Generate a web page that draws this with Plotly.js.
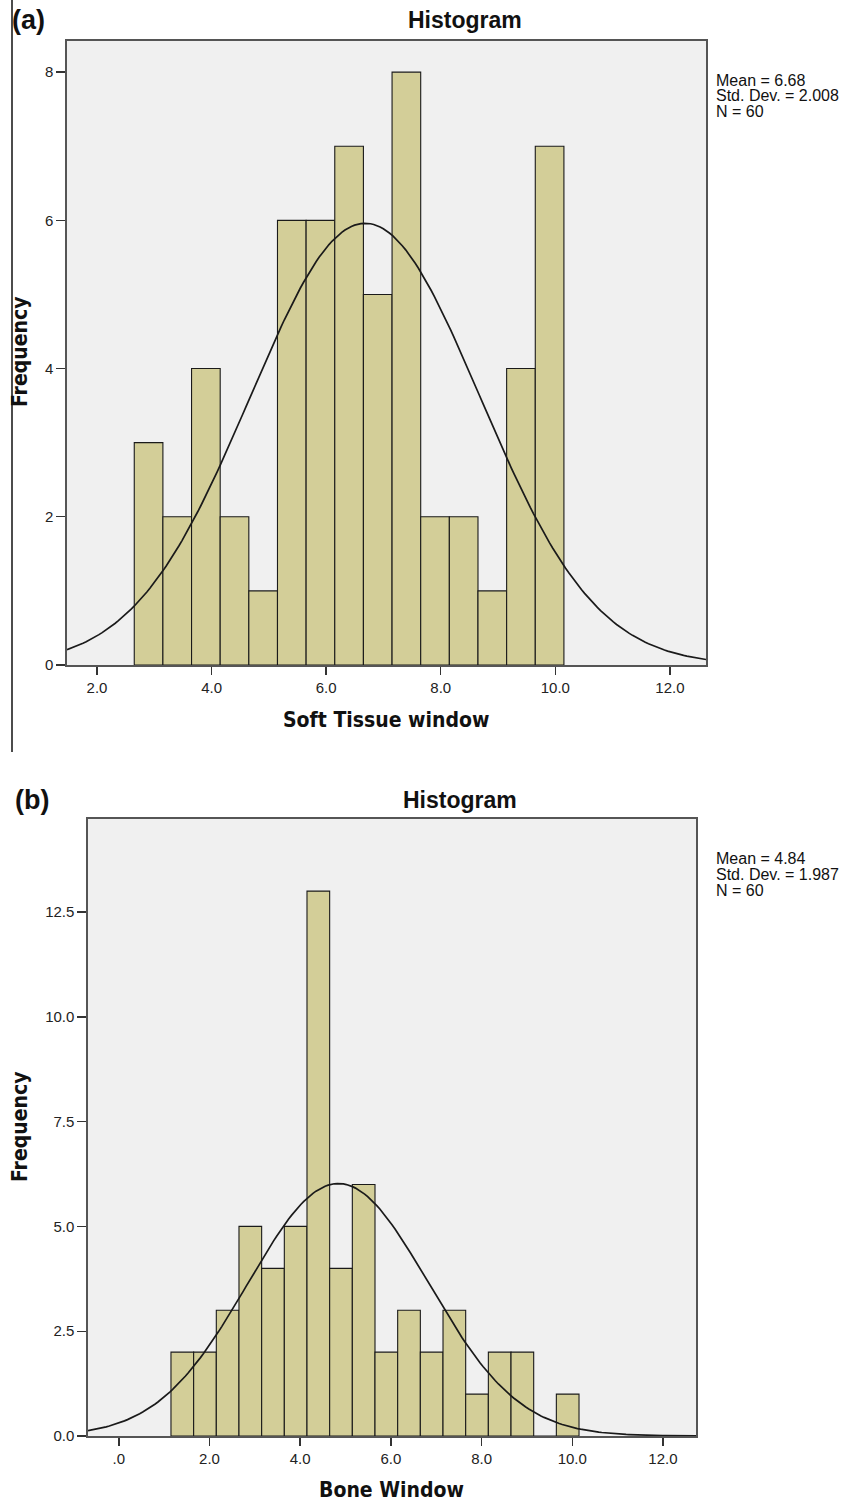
<!DOCTYPE html>
<html>
<head>
<meta charset="utf-8">
<script src="https://cdn.plot.ly/plotly-3.0.1.min.js"></script>
<style>html,body{margin:0;padding:0;background:#fff;}#chart{width:845px;height:1502px;}</style>
</head>
<body>
<div id="chart"></div>
<script>
// ---- Panel (a): Soft Tissue window ----
const binCentersA = [2.9, 3.4, 3.9, 4.4, 4.9, 5.4, 5.9, 6.4, 6.9, 7.4, 7.9, 8.4, 8.9, 9.4, 9.9];
const countsA     = [3, 2, 4, 2, 1, 6, 6, 7, 5, 8, 2, 2, 1, 4, 7];
const statsA      = {mean: 6.68, sd: 2.008, n: 60};
const xTicksA     = [2, 4, 6, 8, 10, 12];
const xTickTextA  = ["2.0", "4.0", "6.0", "8.0", "10.0", "12.0"];
const yTicksA     = [0, 2, 4, 6, 8];
const yTickTextA  = ["0", "2", "4", "6", "8"];

// ---- Panel (b): Bone Window ----
const binCentersB = [1.4, 1.9, 2.4, 2.9, 3.4, 3.9, 4.4, 4.9, 5.4, 5.9, 6.4, 6.9, 7.4, 7.9, 8.4, 8.9, 9.4, 9.9];
const countsB     = [2, 2, 3, 5, 4, 5, 13, 4, 6, 2, 3, 2, 3, 1, 2, 2, 0, 1];
const statsB      = {mean: 4.84, sd: 1.987, n: 60};
const xTicksB     = [0, 2, 4, 6, 8, 10, 12];
const xTickTextB  = [".0", "2.0", "4.0", "6.0", "8.0", "10.0", "12.0"];
const yTicksB     = [0, 2.5, 5, 7.5, 10, 12.5];
const yTickTextB  = ["0.0", "2.5", "5.0", "7.5", "10.0", "12.5"];

const binWidth = 0.5;
const rangeXA = [1.476, 12.63], rangeYA = [0, 8.42];
const rangeXB = [-0.68, 12.73], rangeYB = [0, 14.72];

// SPSS-style normal curve overlay from the stated Mean / Std. Dev. / N
function normalCurve(st, range) {
  const xs = [], ys = [];
  const steps = 200;
  for (let i = 0; i <= steps; i++) {
    const x = range[0] + (range[1] - range[0]) * i / steps;
    const z = (x - st.mean) / st.sd;
    xs.push(x);
    ys.push(st.n * binWidth * Math.exp(-0.5 * z * z) / (st.sd * Math.sqrt(2 * Math.PI)));
  }
  return {xs, ys};
}
const curveA = normalCurve(statsA, rangeXA);
const curveB = normalCurve(statsB, rangeXB);

const W = 845, H = 1502;
const px = v => v / W;
const py = v => 1 - v / H;

const barFill = '#d3ce98';
const tickFont = {family: 'Liberation Sans, Arial, sans-serif', size: 15, color: '#222'};
const titleFont = {family: 'Liberation Sans Narrow, DejaVu Sans Condensed, Arial Narrow, sans-serif', size: 21, color: '#111', weight: 'bold'};

const traces = [
  {type: 'bar', x: binCentersA, y: countsA, width: binWidth, xaxis: 'x', yaxis: 'y',
   marker: {color: barFill, line: {color: '#1a1a1a', width: 1.1}}, hoverinfo: 'x+y'},
  {type: 'scatter', mode: 'lines', x: curveA.xs, y: curveA.ys, xaxis: 'x', yaxis: 'y',
   line: {color: '#1a1a1a', width: 1.7}, hoverinfo: 'skip'},
  {type: 'bar', x: binCentersB, y: countsB, width: binWidth, xaxis: 'x2', yaxis: 'y2',
   marker: {color: barFill, line: {color: '#1a1a1a', width: 1.1}}, hoverinfo: 'x+y'},
  {type: 'scatter', mode: 'lines', x: curveB.xs, y: curveB.ys, xaxis: 'x2', yaxis: 'y2',
   line: {color: '#1a1a1a', width: 1.7}, hoverinfo: 'skip'}
];

function xAxis(domain, range, tv, tt, anchor) {
  return {domain, range, anchor, tickvals: tv, ticktext: tt, ticks: 'outside', ticklen: 8,
    tickcolor: '#333', tickwidth: 1.4, tickfont: tickFont, showgrid: false, zeroline: false,
    showline: true, linecolor: '#555', linewidth: 1.6, mirror: true, fixedrange: true};
}
function yAxis(domain, range, tv, tt, anchor) {
  return {domain, range, anchor, tickvals: tv, ticktext: tt, ticks: 'outside', ticklen: 9,
    tickcolor: '#333', tickwidth: 1.4, tickfont: tickFont, showgrid: false, zeroline: false,
    showline: true, linecolor: '#555', linewidth: 1.6, mirror: true, fixedrange: true};
}

const statFont = {family: 'Liberation Sans, Arial, sans-serif', size: 16, color: '#111'};
function statAnn(text, y) {
  return {xref: 'paper', yref: 'paper', x: px(714), y: py(y), xanchor: 'left', yanchor: 'middle',
    text, showarrow: false, font: statFont};
}
function txt(text, x, y, font, extra) {
  return Object.assign({xref: 'paper', yref: 'paper', x: px(x), y: py(y), xanchor: 'center', yanchor: 'middle',
    text, showarrow: false, font}, extra || {});
}
const histFont = {family: 'Liberation Sans, Arial, sans-serif', size: 23, color: '#111', weight: 'bold'};
const panelFont = {family: 'Liberation Sans, Arial, sans-serif', size: 27, color: '#111', weight: 'bold'};

const layout = {
  width: W, height: H,
  margin: {l: 0, r: 0, t: 0, b: 0},
  paper_bgcolor: '#ffffff',
  plot_bgcolor: '#f0f0f0',
  showlegend: false,
  bargap: 0,
  xaxis: xAxis([px(67), px(706)], rangeXA, xTicksA, xTickTextA, 'y'),
  yaxis: yAxis([py(665), py(41)], rangeYA, yTicksA, yTickTextA, 'x'),
  xaxis2: xAxis([px(88), px(696)], rangeXB, xTicksB, xTickTextB, 'y2'),
  yaxis2: yAxis([py(1436), py(819)], rangeYB, yTicksB, yTickTextB, 'x2'),
  annotations: [
    txt('<b>(a)</b>', 29, 20, panelFont),
    txt('<b>(b)</b>', 32, 800, panelFont),
    txt('<b>Histogram</b>', 465, 20, histFont),
    txt('<b>Histogram</b>', 460, 800, histFont),
    txt('<b>Soft Tissue window</b>', 386, 720, titleFont),
    txt('<b>Bone Window</b>', 391, 1490, titleFont),
    txt('<b>Frequency</b>', 20, 352, titleFont, {textangle: -90}),
    txt('<b>Frequency</b>', 20, 1127, titleFont, {textangle: -90}),
    statAnn('Mean = ' + statsA.mean.toFixed(2), 80),
    statAnn('Std. Dev. = ' + statsA.sd.toFixed(3), 96),
    statAnn('N = ' + statsA.n, 111),
    statAnn('Mean = ' + statsB.mean.toFixed(2), 858),
    statAnn('Std. Dev. = ' + statsB.sd.toFixed(3), 875),
    statAnn('N = ' + statsB.n, 890)
  ],
  shapes: [
    {type: 'line', xref: 'paper', yref: 'paper', x0: px(12), x1: px(12), y0: py(0), y1: py(752),
     line: {color: '#111', width: 1.5}}
  ]
};

Plotly.newPlot('chart', traces, layout, {displayModeBar: false, staticPlot: true});
</script>
</body>
</html>
